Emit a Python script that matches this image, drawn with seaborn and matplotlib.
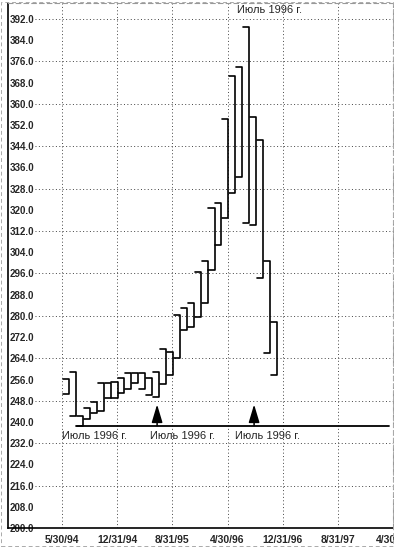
import matplotlib
matplotlib.use("Agg")
import matplotlib.pyplot as plt
from matplotlib.patches import Rectangle
import seaborn as sns
import pandas as pd
import numpy as np

# ---- data ----
highs = [256.2, 259.0, 242.2, 245.4, 247.6, 254.6, 254.8, 255.0, 256.5, 258.3,
         258.6, 258.6, 256.5, 259.0, 267.5, 266.5, 280.3, 282.9, 284.8, 296.7,
         300.8, 320.6, 322.5, 354.3, 370.6, 374.0, 389.0, 355.0, 346.4, 300.8,
         277.6]
lows = [250.5, 242.2, 238.4, 241.0, 243.5, 244.0, 248.9, 248.9, 251.0, 252.5,
        254.5, 252.5, 250.3, 249.5, 254.2, 257.7, 264.0, 274.7, 275.8, 279.4,
        284.8, 297.3, 306.7, 316.8, 326.2, 332.5, 315.2, 314.3, 294.2, 265.9,
        257.7]
date_labels = ["5/30/94", "12/31/94", "8/31/95", "4/30/96", "12/31/96", "8/31/97", "4/30/98"]
y_ticks = list(range(200, 393, 8))
support_level = 238.6
note_text = "Июль 1996 г."

# ---- figure ----
sns.set_style("white")
plt.rcParams["font.family"] = ["Liberation Sans", "DejaVu Sans"]

fig = plt.figure(figsize=(3.94, 5.48), dpi=100)
ax = fig.add_axes([8 / 394, 20 / 548, 385 / 394, 525 / 548])

rows = []
for k, (h, l) in enumerate(zip(highs, lows)):
    for order, (dx, yv) in enumerate([(0.12, h), (1.0, h), (1.0, l), (0.12, l)]):
        rows.append(dict(bar=k, order=order, x=k + dx, y=yv))
df = pd.DataFrame(rows)
sns.lineplot(data=df, x="x", y="y", units="bar", estimator=None, sort=False,
             color="black", lw=1.2, ax=ax, legend=False)

ax.set_xlim(-7.81, 47.19)
ax.set_ylim(200, 398)

step = 7.96
xt = [i * step for i in range(len(date_labels))]
ax.set_xticks(xt)
ax.set_xticklabels(date_labels, fontsize=7.5, fontweight="bold")
ax.set_yticks(y_ticks)
ax.set_yticklabels([f"{v:.1f}" for v in y_ticks], fontsize=7, fontweight="bold")
ax.tick_params(axis="x", length=0, pad=5)
ax.tick_params(axis="y", length=0, pad=-1)
for lab in ax.get_yticklabels():
    lab.set_ha("left")
ax.set_xlabel("")
ax.set_ylabel("")

# grid
for v in range(216, 393, 16):
    ax.axhline(v, color="#444444", lw=0.7, ls=(0, (1, 2.5)), xmin=27 / 385, zorder=0)
for x in xt:
    ax.axvline(x, color="#444444", lw=0.7, ls=(0, (1, 2.5)), zorder=0)

# spines
for s in ["top", "right"]:
    ax.spines[s].set_linestyle((0, (4, 3)))
    ax.spines[s].set_color("#999999")
    ax.spines[s].set_linewidth(0.8)
for s in ["left", "bottom"]:
    ax.spines[s].set_color("black")
    ax.spines[s].set_linewidth(1.2)

# support line and annotations
ax.plot([2.0, 47.19], [support_level, support_level], color="black", lw=1.3)
for xpos in [0.05, 12.72, 24.9]:
    ax.text(xpos, 234.6, note_text, fontsize=8, ha="left", va="center")
ax.text(25.2, 395.4, note_text, fontsize=8, ha="left", va="center")
for xpos in [13.71, 27.71]:
    ax.annotate("", xy=(xpos, 246.6), xytext=(xpos, support_level),
                arrowprops=dict(arrowstyle="-|>,head_length=1.0,head_width=0.3",
                                color="black", lw=1.1, mutation_scale=11,
                                shrinkA=0, shrinkB=0))

fig.add_artist(Rectangle((0.003, 0.003), 0.994, 0.994, transform=fig.transFigure,
                         fill=False, ls=(0, (4, 3)), ec="#aaaaaa", lw=0.7))

fig.savefig("out.png", dpi=100)
